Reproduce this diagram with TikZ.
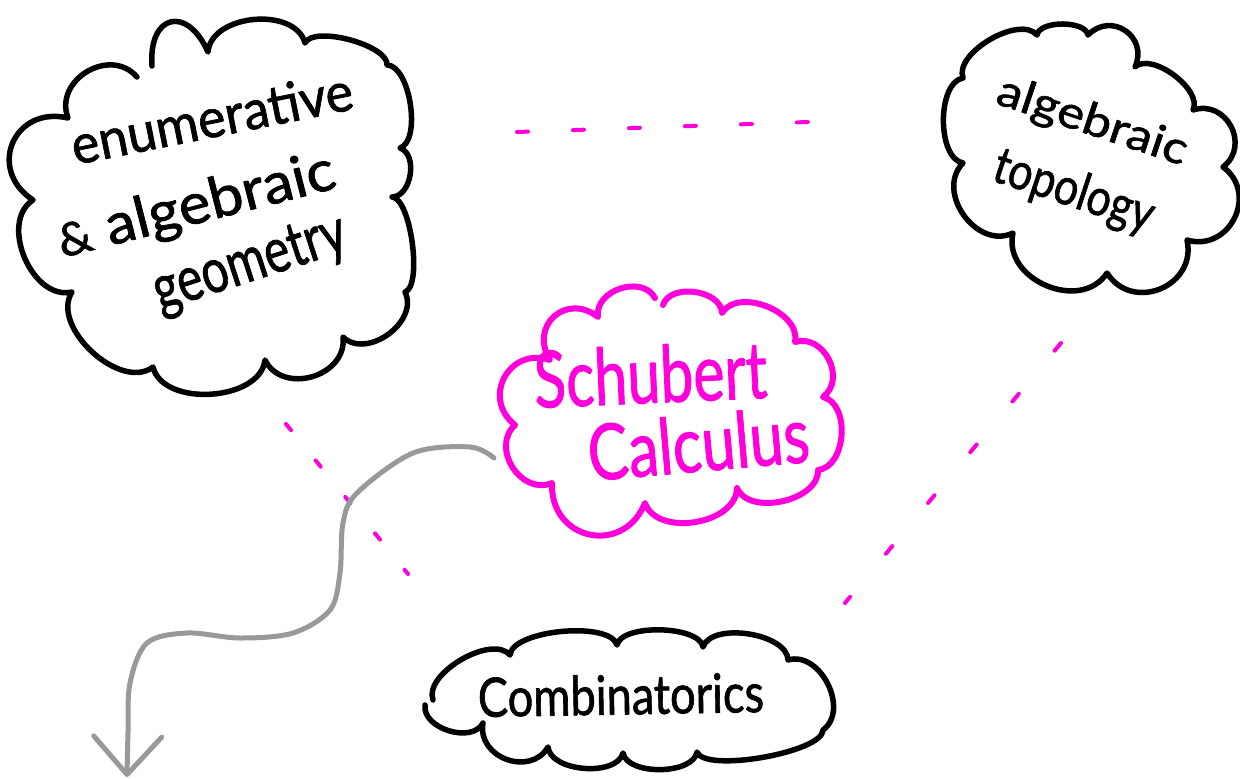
\documentclass[tikz,border=0pt]{standalone}
\usepackage{fontspec}
\setmainfont{Lato}[FakeBold=1.3]
\usepackage{graphicx}
\usetikzlibrary{arrows.meta}
\definecolor{pinkink}{RGB}{255,0,221}
\definecolor{greyink}{RGB}{153,153,153}
% stretch a word to a given width and height (in pt)
\newcommand\handtext[3]{\resizebox{#1pt}{#2pt}{#3}}
\begin{document}
\begin{tikzpicture}[x=1pt,y=-1pt,
  puff/.style={bend left=80,looseness=#1}, puff/.default=1,
  cloudline/.style={line width=5.5pt,line cap=round,line join=round},
  word/.style={inner sep=0pt,anchor=base west},
  dashlink/.style={pinkink,line width=4pt,line cap=round},
]
\fill[white] (0,0) rectangle (1240,779);
\useasboundingbox (0,0) rectangle (1240,779);

% ---- enumerative & algebraic geometry
\draw[cloudline] (152,66) to[puff=2.3] (208,52) to[puff=1.0] (305,43)
  to[puff=0.6] (387,65) to[puff=0.7] (400,148) to[puff=1.0] (392,197)
  to[puff=0.5] (405,292) to[puff=1.1] (343,337) to[puff=1.25] (265,360)
  to[puff=0.95] (153,367) to[puff=0.95] (72,292) to[puff=1.05] (33,200)
  to[puff=1.6] (68,118) to[puff=1.3] (137,77);
\node[word,rotate=11.3] (enum) at (75,165) {\handtext{286}{40}{enumerative}};
\node[word,rotate=14.3] (alg) at (62,258) {\handtext{285}{42}{\scalebox{0.8}{\&} algebraic}};
\node[word,rotate=18] (geo) at (160,311) {\handtext{200}{42}{geometry}};

% ---- algebraic topology
\draw[cloudline] (963,78) to[puff=0.8] (1037,35) to[puff=0.75] (1088,35)
  to[puff=1.5] (1135,67) to[puff=0.8] (1193,110) to[puff=1.4] (1223,167)
  to[puff=1.4] (1187,240) to[puff=1.4] (1107,273) to[puff=1.2] (1013,233)
  to[puff=1.2] (963,163) to[puff=0.8] (963,78);
\node[word,rotate=-18.4] (top1) at (994,103) {\handtext{198}{33}{algebraic}};
\node[word,rotate=-18.3] (top2) at (990,180) {\handtext{166}{38}{topology}};

% ---- Schubert Calculus
\draw[cloudline,pinkink,line width=6pt] (663,305) to[puff=1.0] (722,313)
  to[puff=1.0] (795,342) to[puff=1.25] (823,397) to[puff=1.0] (818,470)
  to[puff=0.95] (737,488) to[puff=1.0] (645,503) to[puff=1.55] (552,483)
  to[puff=1.25] (515,425) to[puff=1.5] (550,360) to[puff=1.6] (598,317)
  to[puff=1.15] (655,298);
\node[word,rotate=2.5,text=pinkink] (sch1) at (535,408) {\handtext{233}{58}{Schubert}};
\node[word,rotate=5,text=pinkink] (sch2) at (590,481) {\handtext{222}{57}{Calculus}};

% ---- Combinatorics
\draw[cloudline] (433,700) to[puff=0.8] (510,655) to[puff=0.6] (617,645)
  to[puff=0.65] (703,647) to[puff=0.8] (788,660) to[puff=1.1] (823,730)
  to[puff=0.45] (697,752) to[puff=0.8] (623,753) to[puff=0.85] (548,747)
  to[puff=1.3] (483,723) to[puff=1.0] (425,705);
\node[word,rotate=1] (comb) at (478,717) {\handtext{286}{40}{Combinatorics}};

% ---- dashed links between the fields
\coordinate (tA) at (517,132);
\coordinate (tB) at (808,122);
\coordinate (lA) at (286,424);
\coordinate (lB) at (408,574);
\coordinate (rA) at (1061,343);
\coordinate (rB) at (845,603);
\draw[dashlink,dash pattern=on 11pt off 45pt] (tA) -- (tB);
\draw[dashlink,dash pattern=on 8pt off 39pt] (lA) -- (lB);
\draw[dashlink,dash pattern=on 10pt off 56pt] (rA) -- (rB);

% ---- grey arrow leaving Schubert Calculus
\coordinate (arrowstart) at (494,458);
\coordinate (arrowend) at (127,777);
\draw[greyink,line width=5pt,line cap=round,
      -{Straight Barb[length=38pt,width=68pt,round]}]
  plot[smooth,tension=0.55] coordinates {(arrowstart) (470,447) (413,453)
  (357,493) (343,523) (340,573) (330,610) (293,633) (240,638) (187,633)
  (147,643) (130,683) (128,733) (arrowend)};
\end{tikzpicture}
\end{document}
